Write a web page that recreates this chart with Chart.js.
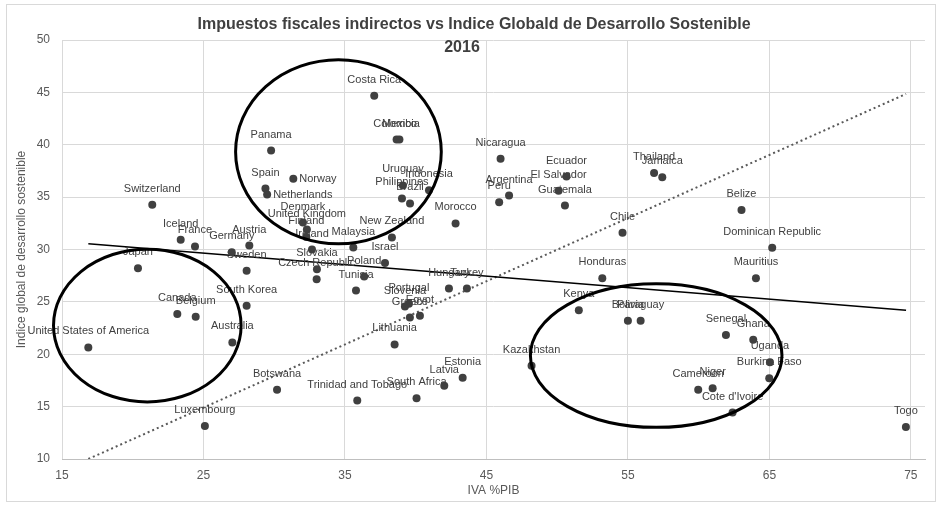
<!DOCTYPE html>
<html>
<head>
<meta charset="utf-8">
<script src="https://cdn.jsdelivr.net/npm/chart.js@4"></script>
<style>
  body { margin: 0; background: #fff; }
</style>
</head>
<body>
<canvas id="chart" width="940" height="508"></canvas>
<script>
const countries = [
  "United States of America", "Japan", "Switzerland", "Canada", "Iceland", "France", "Belgium",
  "Luxembourg", "Germany", "Australia", "Sweden", "South Korea", "Austria", "Spain", "Netherlands",
  "Panama", "Botswana", "Norway", "Denmark", "Finland", "United Kingdom", "Ireland", "Czech Republic",
  "Slovakia", "Malaysia", "Tunisia", "Trinidad and Tobago", "Poland", "Costa Rica", "Israel",
  "New Zealand", "Lithuania", "Colombia", "Mexico", "Philippines", "Uruguay", "Slovenia", "Portugal",
  "Greece", "Brazil", "South Africa", "Egypt", "Indonesia", "Latvia", "Hungary", "Morocco", "Estonia",
  "Turkey", "Peru", "Nicaragua", "Argentina", "Kazakhstan", "El Salvador", "Guatemala", "Ecuador",
  "Kenya", "Honduras", "Chile", "Bolivia", "Paraguay", "Thailand", "Jamaica", "Cameroon", "Niger",
  "Senegal", "Cote d'Ivoire", "Belize", "Ghana", "Mauritius", "Burkina Faso", "Uganda",
  "Dominican Republic", "Togo"
];
const ivaPib = [
  16.86, 20.37, 21.38, 23.15, 23.39, 24.4, 24.45,
  25.1, 27.0, 27.04, 28.05, 28.05, 28.24, 29.38, 29.5,
  29.78, 30.2, 31.35, 32.03, 32.27, 32.31, 32.67, 33.0,
  33.02, 35.59, 35.78, 35.87, 36.36, 37.07, 37.83,
  38.32, 38.51, 38.65, 38.85, 39.03, 39.1, 39.24, 39.52,
  39.59, 39.6, 40.06, 40.3, 40.94, 42.02, 42.35, 42.82, 43.32,
  43.62, 45.9, 46.0, 46.6, 48.19, 50.1, 50.55, 50.66,
  51.53, 53.19, 54.62, 55.0, 55.9, 56.85, 57.43, 59.97, 60.99,
  61.93, 62.4, 63.03, 63.86, 64.05, 64.99, 65.04,
  65.2, 74.65
];
const indiceDS = [
  20.65, 28.2, 34.28, 23.85, 30.93, 30.29, 23.59,
  13.16, 29.74, 21.13, 27.96, 24.64, 30.38, 35.82, 35.25,
  39.45, 16.6, 36.75, 32.58, 31.2, 31.9, 30.0, 27.16,
  28.11, 30.19, 26.08, 15.58, 27.42, 44.67, 28.71,
  31.15, 20.94, 40.5, 40.5, 34.88, 36.12, 24.55, 24.83,
  23.5, 34.4, 15.81, 23.68, 35.65, 16.99, 26.27, 32.49, 17.75,
  26.27, 34.5, 38.66, 35.15, 18.9, 35.6, 34.2, 36.97,
  24.2, 27.26, 31.59, 23.2, 23.2, 37.3, 36.9, 16.6, 16.76,
  21.84, 14.43, 33.76, 21.39, 27.25, 17.72, 19.23,
  30.16, 13.06
];
const xTicks = [15, 25, 35, 45, 55, 65, 75];

// linea de tendencia (solida) y linea punteada
const trendX = [16.86, 74.66];
const trendY = [30.54, 24.2];
const refX = [16.86, 74.66];
const refY = [10, 44.85];

// grupos marcados con elipses: centro x, centro y, semiejes (unidades de datos)
const groupCx = [34.54, 21.03, 57.0];
const groupCy = [39.33, 22.74, 19.87];
const groupRx = [7.27, 6.63, 8.89];
const groupRy = [8.79, 7.29, 6.85];

const rightLabels = ["Norway", "Netherlands"];
const FONT = "'Liberation Sans', Arial, sans-serif";
const textColor = "#404040";

const extras = {
  id: "extras",
  afterDatasetsDraw(chart) {
    const ctx = chart.ctx;
    const xs = chart.scales.x, ys = chart.scales.y;

    // etiquetas de paises
    ctx.save();
    ctx.font = "11px " + FONT;
    ctx.fillStyle = textColor;
    ctx.textBaseline = "middle";
    countries.forEach((name, i) => {
      const px = xs.getPixelForValue(ivaPib[i]);
      const py = ys.getPixelForValue(indiceDS[i]);
      if (rightLabels.includes(name)) {
        ctx.textAlign = "left";
        ctx.fillText(name, px + 6, py);
      } else {
        ctx.textAlign = "center";
        ctx.fillText(name, px, py - 16);
      }
    });
    ctx.restore();

    // elipses
    ctx.save();
    ctx.strokeStyle = "#000";
    ctx.lineWidth = 3;
    groupCx.forEach((cx, i) => {
      const px = xs.getPixelForValue(cx);
      const py = ys.getPixelForValue(groupCy[i]);
      const rx = xs.getPixelForValue(cx + groupRx[i]) - px;
      const ry = py - ys.getPixelForValue(groupCy[i] + groupRy[i]);
      ctx.beginPath();
      ctx.ellipse(px, py, rx, ry, 0, 0, Math.PI * 2);
      ctx.stroke();
    });
    ctx.restore();
  },
  afterDraw(chart) {
    const ctx = chart.ctx;
    ctx.save();
    ctx.fillStyle = textColor;
    ctx.font = "bold 16px " + FONT;
    ctx.textAlign = "center";
    ctx.textBaseline = "middle";
    ctx.fillText("Impuestos fiscales indirectos vs Indice Globald de Desarrollo Sostenible", 474, 25);
    ctx.fillText("2016", 462, 48);
    ctx.strokeStyle = "#d9d9d9";
    ctx.lineWidth = 1;
    ctx.strokeRect(6.5, 4.5, 929, 497);
    ctx.restore();
  }
};

new Chart(document.getElementById("chart"), {
  type: "scatter",
  data: {
    datasets: [
      {
        data: countries.map((c, i) => ({ x: ivaPib[i], y: indiceDS[i] })),
        pointRadius: 4,
        pointBackgroundColor: textColor,
        pointBorderWidth: 0
      },
      {
        type: "line",
        data: trendX.map((x, i) => ({ x: x, y: trendY[i] })),
        borderColor: "#000",
        borderWidth: 1.5,
        pointRadius: 0
      },
      {
        type: "line",
        data: refX.map((x, i) => ({ x: x, y: refY[i] })),
        borderColor: "#595959",
        borderWidth: 2,
        borderDash: [2, 3],
        pointRadius: 0
      }
    ]
  },
  options: {
    responsive: false,
    animation: false,
    layout: { padding: { top: 40, right: 15, left: 0, bottom: 0 } },
    plugins: {
      legend: { display: false },
      tooltip: { enabled: false },
      title: { display: false }
    },
    scales: {
      x: {
        type: "linear",
        min: 15,
        max: 76,
        afterBuildTicks: s => { s.ticks = xTicks.map(v => ({ value: v })); },
        afterFit: s => { s.height = 49; },
        grid: { color: "#d9d9d9", drawTicks: false },
        border: { color: "#bfbfbf" },
        ticks: { color: "#595959", font: { family: FONT, size: 12 }, padding: 9 },
        title: {
          display: true, text: "IVA %PIB", color: "#595959",
          font: { family: FONT, size: 12 }, padding: { top: 4, bottom: 10 }
        }
      },
      y: {
        min: 10,
        max: 50,
        afterFit: s => { s.width = 62; },
        grid: { color: "#d9d9d9", drawTicks: false },
        border: { display: false },
        ticks: { stepSize: 5, color: "#595959", font: { family: FONT, size: 12 }, padding: 12 },
        title: {
          display: true, text: "Indice global de desarrollo sostenible", color: "#595959",
          font: { family: FONT, size: 12 }, padding: { top: 14, bottom: 4 }
        }
      }
    }
  },
  plugins: [extras]
});
</script>
</body>
</html>
